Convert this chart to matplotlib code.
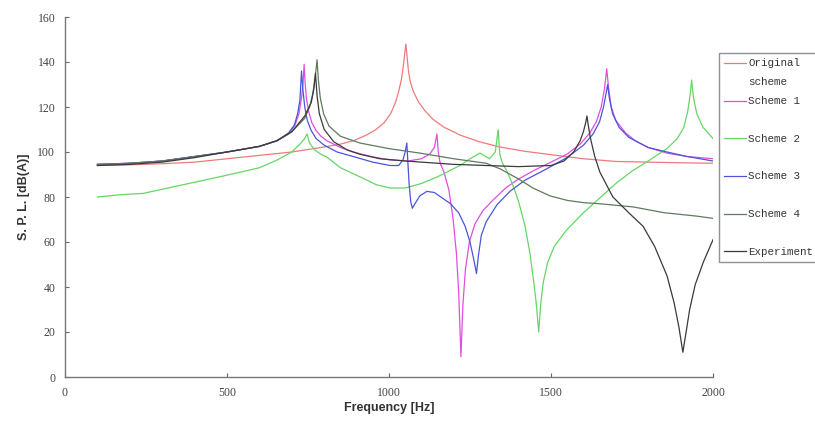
import matplotlib
matplotlib.use("Agg")
import matplotlib.pyplot as plt
from matplotlib.legend_handler import HandlerLine2D

# ---------------- data ----------------
f_orig = [100, 200, 300, 400, 500, 600, 700, 790, 850, 890, 930, 960, 985, 1005, 1020, 1030,
          1038, 1044, 1048, 1052, 1056, 1060, 1066, 1075, 1090, 1110, 1136, 1170, 1220, 1280,
          1343, 1420, 1500, 1600, 1700, 1800, 1900, 2000]
v_orig = [94, 94.3, 94.8, 95.5, 97, 98.5, 100, 102, 103.5, 105, 107.5, 110, 113, 117, 122, 127,
          132, 138, 143, 148, 142, 136, 131, 127, 122.5, 118.5, 114.5, 111, 107.5, 104.5,
          102.2, 100.3, 98.8, 97, 95.8, 95.5, 95.2, 95]

f_s1 = [100, 200, 300, 400, 500, 600, 654, 690, 710, 722, 730, 735, 738, 741, 745, 752, 762,
        775, 790, 808, 850, 889, 950, 1003, 1060, 1100, 1125, 1140, 1148, 1152, 1158, 1170,
        1185, 1198, 1208, 1215, 1222, 1228, 1236, 1248, 1265, 1290, 1320, 1360, 1400, 1450,
        1500, 1549, 1590, 1620, 1640, 1655, 1665, 1672, 1678, 1686, 1700, 1730, 1760, 1800,
        1858, 1920, 2000]
v_s1 = [94.5, 95, 96, 98, 100, 102.5, 105, 108, 112, 117, 124, 131, 139, 131, 124, 118, 113,
        109.5, 107, 105, 102, 100, 97.8, 96.5, 96, 97, 99, 102, 108, 100, 95, 91,
        83, 70, 55, 38, 9, 32, 48, 60, 68, 74, 78.5, 84, 88, 92,
        95.5, 99, 103.5, 108.5, 113.5, 120, 128, 137, 128, 120, 114, 108.5, 105, 102,
        99.5, 98, 97]

f_s2 = [100, 170, 241, 350, 500, 600, 654, 700, 725, 740, 747, 755, 770, 790, 808, 850, 910,
        960, 1003, 1050, 1100, 1150, 1219, 1250, 1281, 1310, 1328, 1337, 1342, 1350, 1364,
        1383, 1400, 1420, 1435, 1447, 1455, 1462, 1468, 1476, 1490, 1510, 1549, 1600, 1650,
        1700, 1750, 1800, 1858, 1890, 1910, 1922, 1930, 1934, 1940, 1950, 1969, 2000]
v_s2 = [80, 81, 81.6, 85, 89.7, 93, 96.4, 100, 103.5, 106, 108, 104, 101, 99, 97.8, 93, 89,
        85.5, 84, 84, 86, 89, 94, 97, 99.5, 97, 100, 110, 99, 95, 91.5,
        85, 78, 67, 55, 42, 32, 20, 32, 42, 51, 58, 65.5, 73, 79.5,
        86, 91.5, 96, 101.5, 106, 111, 118, 126, 132, 124, 117, 111, 106]

f_s3 = [100, 200, 300, 400, 500, 600, 654, 690, 708, 718, 725, 730, 734, 740, 748, 760, 775,
        800, 840, 889, 950, 1003, 1030, 1043, 1050, 1055, 1058, 1062, 1067, 1072, 1080, 1095,
        1117, 1140, 1160, 1190, 1215, 1235, 1250, 1262, 1270, 1276, 1285, 1300, 1333, 1373,
        1420, 1480, 1549, 1600, 1630, 1650, 1662, 1670, 1675, 1680, 1690, 1710, 1740, 1800,
        1858, 1920, 2000]
v_s3 = [94.5, 95, 96, 98, 100, 102.5, 105, 108.5, 112, 117, 123, 136, 128, 120, 114, 109.5, 106,
        103, 100, 98, 95.5, 94, 94, 96.5, 100, 104, 96, 86, 78, 75, 77, 80.5,
        82.5, 82, 80, 77, 73, 67, 60, 52, 46, 54, 63, 69, 76.5, 82.5,
        87.5, 92, 97.5, 103, 108, 113.5, 120, 126, 130, 124, 117, 111, 106.5, 102,
        100, 98, 96]

f_s4 = [100, 200, 300, 400, 500, 600, 654, 700, 740, 755, 765, 772, 778, 782, 788, 798, 815,
        850, 910, 1000, 1096, 1200, 1300, 1343, 1400, 1444, 1497, 1550, 1600, 1650, 1753,
        1850, 1950, 2000]
v_s4 = [94.5, 95, 96, 98, 100, 102.5, 105, 109, 115, 120, 126, 133, 141, 132, 124, 117, 111.5,
        107, 104, 101.5, 99.5, 97, 95, 92.5, 88, 84, 80.5, 78.5, 77.5, 77, 75.6,
        73, 71.5, 70.5]

f_exp = [100, 200, 300, 400, 500, 600, 654, 700, 740, 760, 768, 773, 778, 785, 800, 830, 870,
         910, 972, 1050, 1100, 1200, 1300, 1400, 1500, 1540, 1570, 1590, 1600, 1607, 1611,
         1616, 1622, 1635, 1651, 1691, 1740, 1784, 1820, 1858, 1880, 1895, 1907, 1917, 1928,
         1945, 1970, 2000]
v_exp = [94, 94.5, 95.5, 97.5, 100, 102.5, 105, 109, 116, 122, 128, 135, 125, 117, 110, 104.5, 101,
         99, 97, 96, 95.5, 94.5, 94, 93.5, 94, 96, 100, 105, 109, 113, 116,
         111, 106, 98, 91, 80, 73, 67, 58, 45, 33, 22, 11, 20, 30,
         41, 51, 61]

labels = ["Original\nscheme", "Scheme 1\n ", "Scheme 2\n ", "Scheme 3\n ", "Scheme 4\n ", "Experiment"]
colors = ["#f07a7a", "#e04ee0", "#66d666", "#4a55d8", "#5f7a5f", "#3a3a3a"]

x_ticks = [0, 500, 1000, 1500, 2000]
y_ticks = [0, 20, 40, 60, 80, 100, 120, 140, 160]

# ---------------- figure ----------------
W, H = 815, 425
fig = plt.figure(figsize=(W / 100, H / 100), dpi=100)
ax = fig.add_axes([65 / W, 48 / H, 648 / W, 360 / H])

series = [(f_orig, v_orig), (f_s1, v_s1), (f_s2, v_s2), (f_s3, v_s3), (f_s4, v_s4), (f_exp, v_exp)]
lines = []
for (fx, vy), c, lab in zip(series, colors, labels):
    ln, = ax.plot(fx, vy, color=c, lw=0.9, label=lab)
    lines.append(ln)

ax.set_xlim(0, 2000)
ax.set_ylim(0, 160)
ax.set_xticks(x_ticks)
ax.set_yticks(y_ticks)
for s in ["top", "right"]:
    ax.spines[s].set_visible(False)
for s in ["left", "bottom"]:
    ax.spines[s].set_color("#777777")
    ax.spines[s].set_linewidth(1.0)
ax.tick_params(direction="in", length=3, color="#666666", labelcolor="#444444", pad=7)
for t in ax.get_xticklabels() + ax.get_yticklabels():
    t.set_fontfamily("Liberation Serif")
    t.set_fontsize(8.5)

ax.set_xlabel("Frequency [Hz]", fontfamily="Liberation Sans", fontweight="bold",
              fontsize=9, color="#333333", labelpad=2)
ax.set_ylabel("S. P. L. [dB(A)]", fontfamily="Liberation Sans", fontweight="bold",
              fontsize=9, color="#333333", labelpad=5)


class FirstLineHandler(HandlerLine2D):
    def __init__(self, shift, **kw):
        super().__init__(**kw)
        self.shift = shift

    def create_artists(self, legend, orig_handle, xdescent, ydescent, width, height, fontsize, trans):
        return super().create_artists(legend, orig_handle, xdescent, ydescent, width,
                                      height + 2 * self.shift * fontsize, fontsize, trans)


hmap = {ln: FirstLineHandler(0.93) for ln in lines[:-1]}
hmap[lines[-1]] = FirstLineHandler(0.0)
leg = fig.legend(handles=lines, labels=labels, loc="upper left",
                 bbox_to_anchor=(719 / W, 1 - 53 / H), bbox_transform=fig.transFigure,
                 borderaxespad=0.0,
                 prop={"family": "Liberation Mono", "size": 7.8}, frameon=True, fancybox=False,
                 borderpad=0.5, handlelength=2.0, handletextpad=0.2, labelspacing=0.8,
                 handler_map=hmap)
leg.get_frame().set_edgecolor("#777777")
leg.get_frame().set_linewidth(1.0)
for t in leg.get_texts():
    t.set_linespacing(2.12)
    t.set_color("#333333")

fig.savefig("out.png", dpi=100)
